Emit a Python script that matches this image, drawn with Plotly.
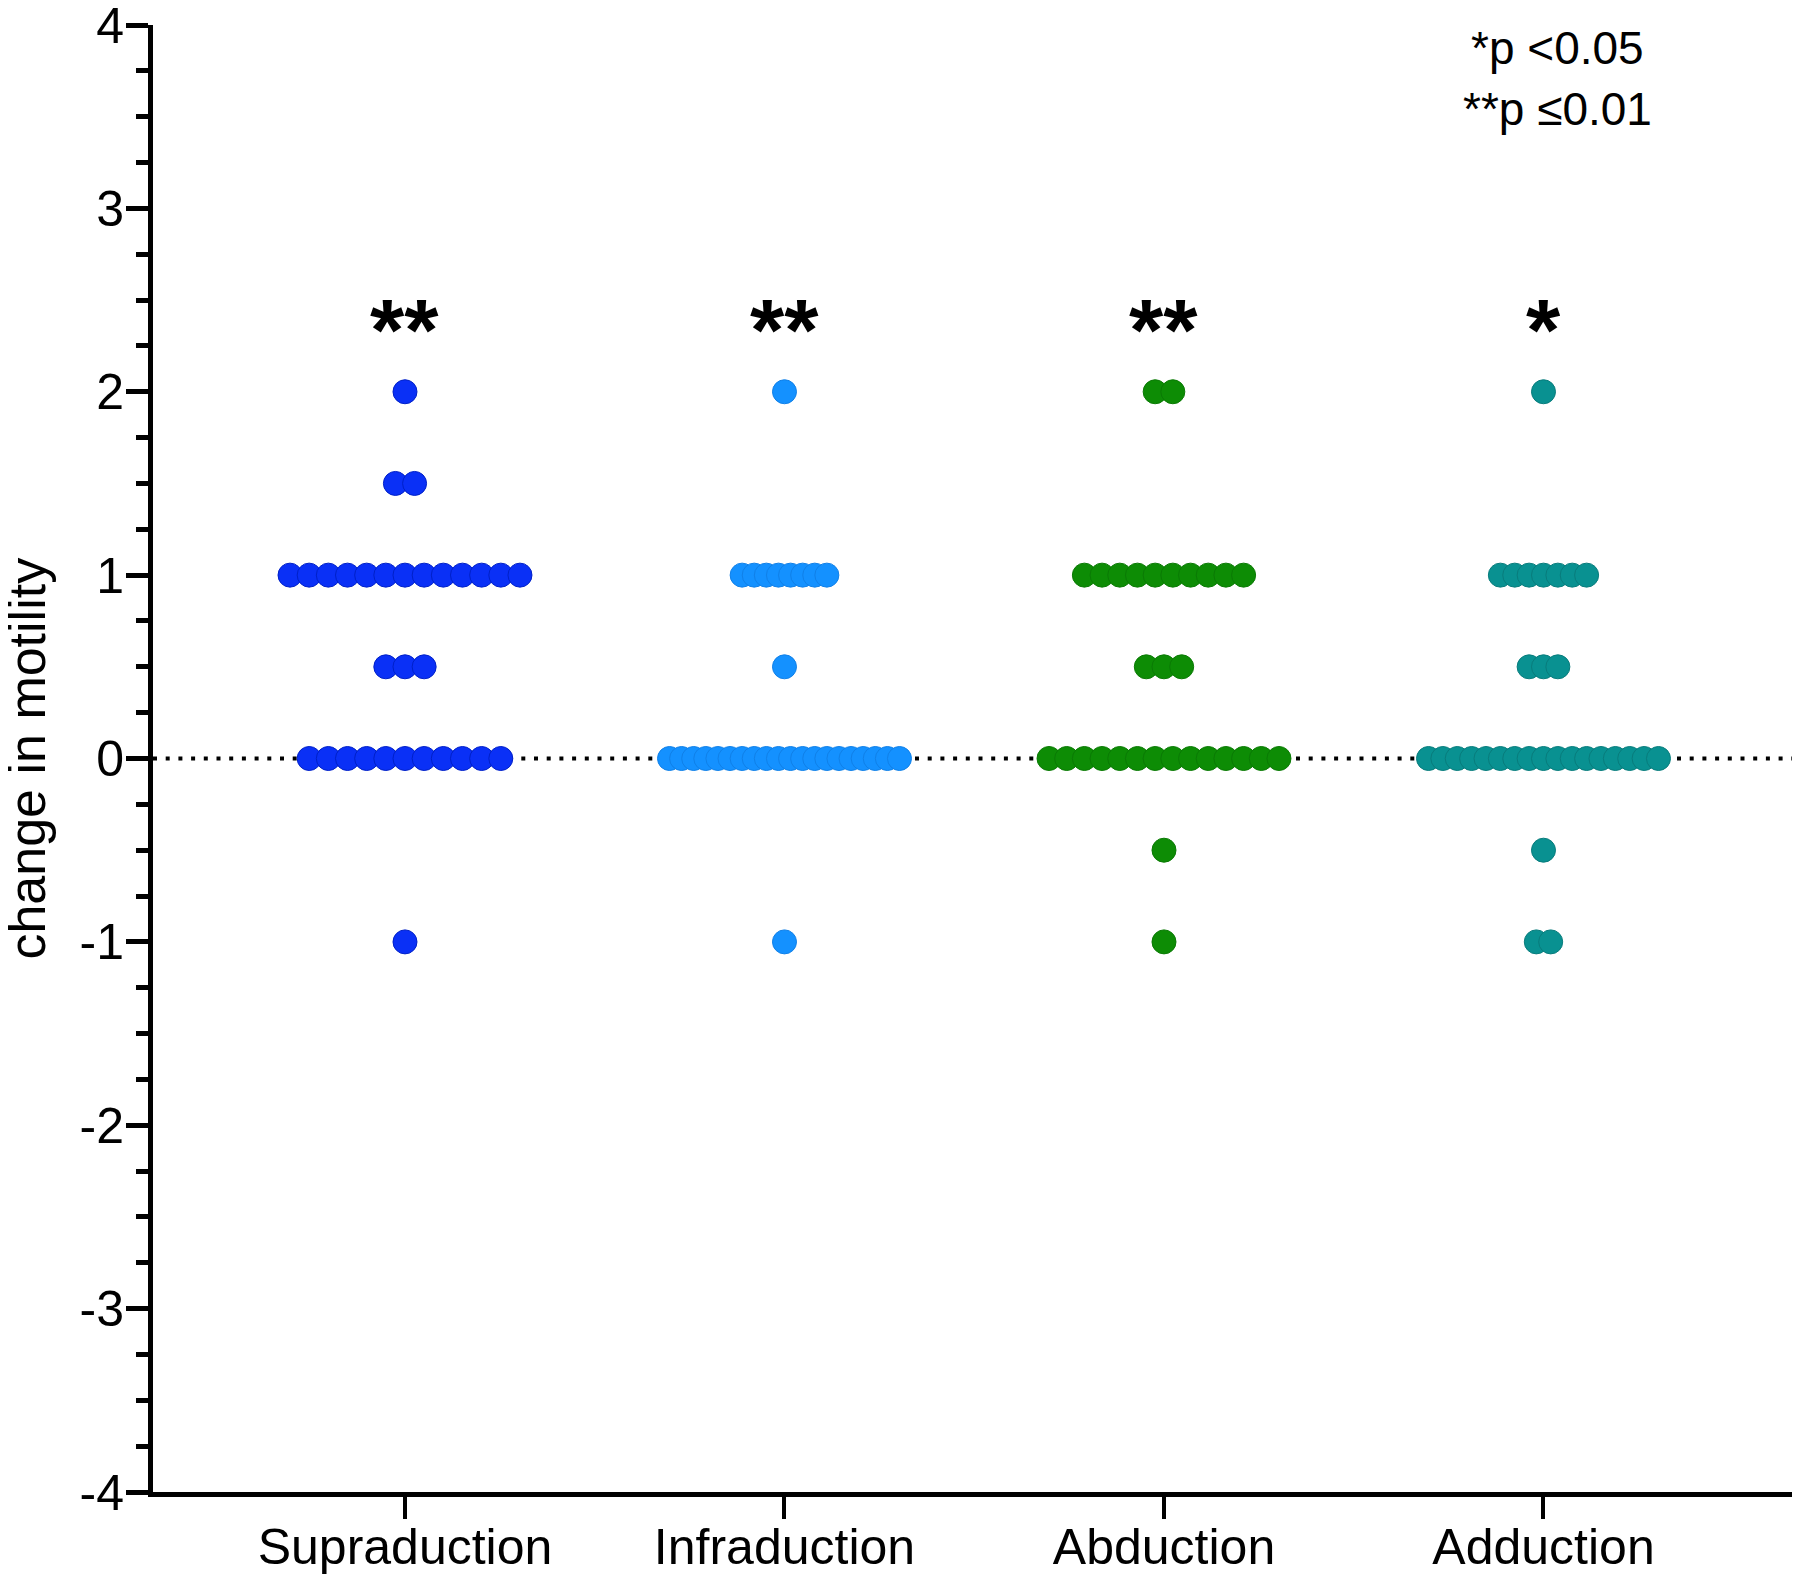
import plotly.graph_objects as go

# ---- data ----
categories = ["Supraduction", "Infraduction", "Abduction", "Adduction"]
colors = ["#0A30F6", "#1491FF", "#0D8C05", "#099191"]
edge_colors = ["#0020C8", "#1080E8", "#0A7A04", "#087C7C"]

supra_levels = [2, 1.5, 1, 0.5, 0, -1]
supra_counts = [1, 2, 13, 3, 11, 1]

infra_levels = [2, 1, 0.5, 0, -1]
infra_counts = [1, 8, 1, 20, 1]

abd_levels = [2, 1, 0.5, 0, -0.5, -1]
abd_counts = [2, 10, 3, 14, 1, 1]

add_levels = [2, 1, 0.5, 0, -0.5, -1]
add_counts = [1, 7, 3, 17, 1, 2]

significance = ["**", "**", "**", "*"]
sig_y = 2.4

ytick_vals = [-4, -3, -2, -1, 0, 1, 2, 3, 4]
ytick_text = ["-4", "-3", "-2", "-1", "0", "1", "2", "3", "4"]

groups = [
    (supra_levels, supra_counts),
    (infra_levels, infra_counts),
    (abd_levels, abd_counts),
    (add_levels, add_counts),
]

SPAN = 0.606  # total horizontal spread of the widest row (x units)
FONT = "Arial, Liberation Sans, Helvetica, sans-serif"

fig = go.Figure()

for gi, (levels, counts) in enumerate(groups):
    maxn = max(counts)
    step = SPAN / (maxn - 1) if maxn > 1 else 0
    xs, ys = [], []
    for v, n in zip(levels, counts):
        for i in range(n):
            xs.append(gi + (i - (n - 1) / 2) * step)
            ys.append(v)
    fig.add_trace(go.Scatter(
        x=xs, y=ys, mode="markers",
        marker=dict(size=24, color=colors[gi],
                    line=dict(width=1, color=edge_colors[gi])),
        showlegend=False, cliponaxis=False,
    ))

# dotted zero line
fig.add_shape(type="line", xref="paper", yref="y", x0=0, x1=1, y0=0, y1=0,
              line=dict(color="black", width=4, dash="4px,8.7px"), layer="below")

# significance stars
for gi, s in enumerate(significance):
    fig.add_annotation(x=gi, y=sig_y - 0.06, text="<b>%s</b>" % s, showarrow=False,
                       xanchor="center", yanchor="middle",
                       font=dict(family=FONT, size=88, color="black"))

# p-value legend
fig.add_annotation(xref="paper", yref="paper", x=0.8546, y=0.9843,
                   text="*p &lt;0.05", showarrow=False, xanchor="center", yanchor="middle",
                   font=dict(family=FONT, size=46, color="black"))
fig.add_annotation(xref="paper", yref="paper", x=0.8546, y=0.9427,
                   text="**p ≤0.01", showarrow=False, xanchor="center", yanchor="middle",
                   font=dict(family=FONT, size=46, color="black"))

# y-axis title
fig.add_annotation(xref="paper", yref="paper", x=-0.0772, y=0.5,
                   text="change in motility", textangle=-90, showarrow=False,
                   xanchor="center", yanchor="middle",
                   font=dict(family=FONT, size=52, color="black"))

# page body has an 8px default margin: size/margins compensate for it
fig.update_layout(
    width=1792, height=1567,
    margin=dict(l=145, r=3, t=17, b=83, autoexpand=False),
    paper_bgcolor="white", plot_bgcolor="white",
    font=dict(family=FONT, color="black"),
)

fig.update_xaxes(
    range=[-0.664, 3.668], automargin=False,
    tickvals=[0, 1, 2, 3], ticktext=categories,
    ticks="outside", ticklen=22, tickwidth=4, tickcolor="black",
    showline=True, linewidth=5, linecolor="black",
    showgrid=False, zeroline=False, ticklabeloverflow="allow",
    ticklabelstandoff=-15,
    tickfont=dict(family=FONT, size=50, color="black"),
)
fig.update_yaxes(
    range=[-4, 4], automargin=False,
    tickvals=ytick_vals, ticktext=ytick_text,
    ticks="outside", ticklen=22, tickwidth=5, tickcolor="black",
    minor=dict(dtick=0.25, tick0=0, ticks="outside", ticklen=12, tickwidth=5, tickcolor="black"),
    showline=True, linewidth=5, linecolor="black",
    showgrid=False, zeroline=False, ticklabeloverflow="allow",
    ticklabelstandoff=-8,
    tickfont=dict(family=FONT, size=50, color="black"),
)

fig.write_html("out.html")
